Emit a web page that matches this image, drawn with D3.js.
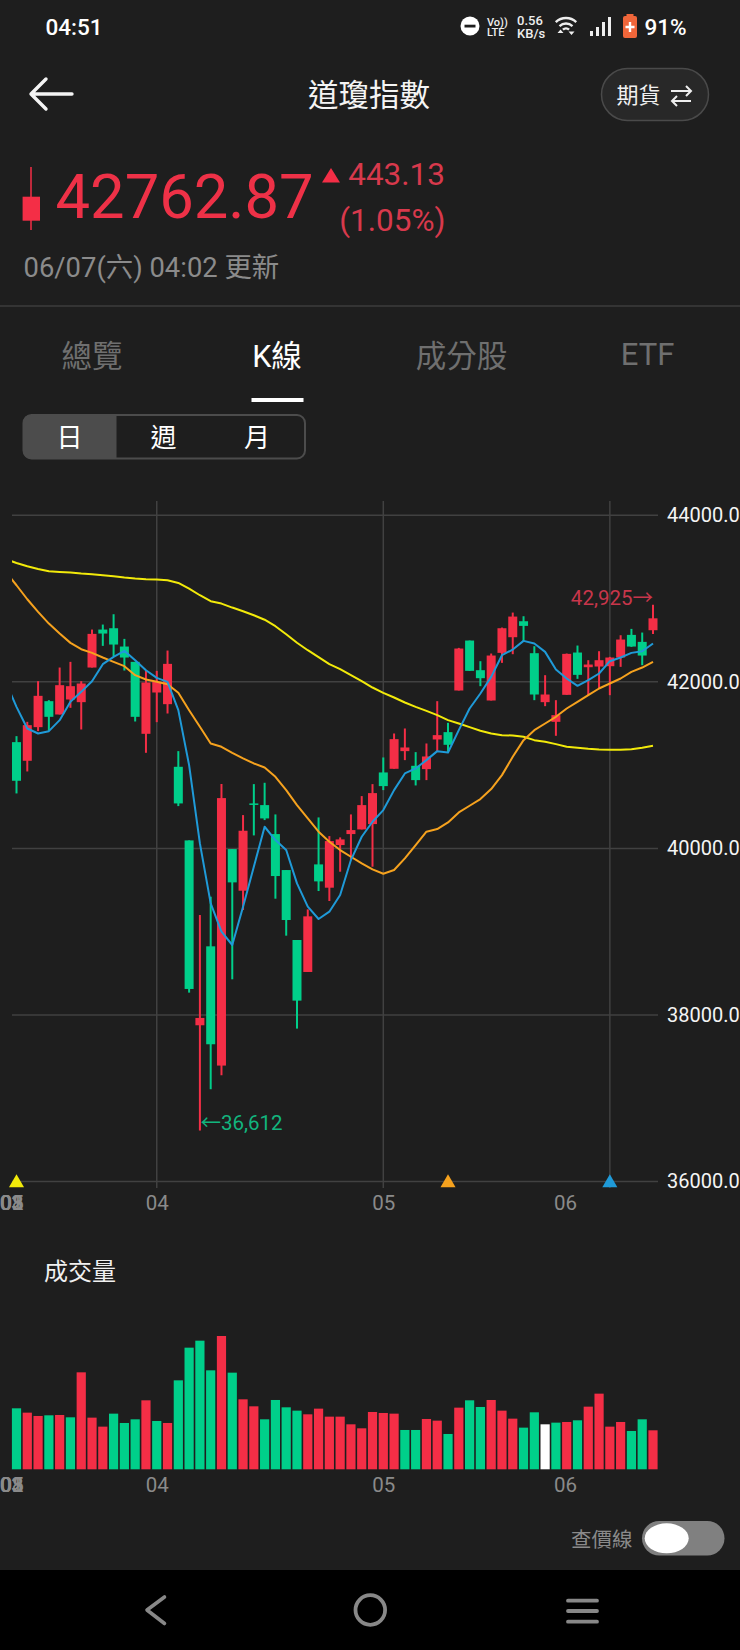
<!DOCTYPE html>
<html lang="zh-Hant">
<head>
    <meta charset="UTF-8">
    <title>道瓊指數 K線</title>
    <style>
        html, body {
            margin: 0;
            padding: 0;
            background: #1e1e1e;
            overflow: hidden;
        }
        svg {
            display: block;
        }
        text {
            font-family: Roboto, "Noto Sans CJK TC", sans-serif;
        }
        .tick line, .domain {
            display: none;
        }
    </style>
    <script src="https://d3js.org/d3.v7.min.js"></script>
</head>
<body>
    <svg id="chart" width="740" height="1650"></svg>
    <script>
        // daily candles, values
        var opens = [41276,41052,41456,41768,41608,41788,41756,42172,42628,42644,42424,42240,41376,41872,41732,40980,
            40096,37876,38824,37392,39992,39492,40540,40520,40172,39740,38900,38516,39808,39528,40040,40172,40228,40292,
            40912,40956,41168,40992,40952,41308,41396,41896,42496,42140,41776,42348,42536,42728,42344,41756,41520,41844,
            42352,42176,42184,42188,42292,42564,42480,42620];
        var highs = [41348,41520,42008,41780,42172,42240,42008,42628,42688,42812,42516,42240,42140,42132,42376,41168,
            40096,39200,39420,40772,39992,40400,40772,40788,40408,39740,38900,39268,40372,40148,40132,40408,40628,40772,
            41092,41380,41440,41156,41260,41768,41508,42408,42496,42248,42340,42652,42832,42788,42428,42080,41780,42340,
            42436,42260,42368,42300,42560,42636,42592,42925];
        var lows = [40660,40924,41408,41412,41608,41688,41428,42172,42432,42308,42136,41524,41148,41516,41620,40508,
            38268,36612,37108,37276,38428,39260,40156,40340,39396,38952,37836,38516,39488,39368,39720,39860,40228,39780,
            40700,40956,41060,40756,40820,41160,41160,41896,42132,41948,41776,42228,42332,42492,41780,41708,41352,41844,
            42036,41840,41920,41840,42180,42420,42200,42576];
        var closes = [40812,41480,41832,41580,41960,41948,41980,42576,42580,42448,42292,41580,41992,42000,42216,40540,
            38312,37964,37648,40604,39592,40212,40524,40360,39668,39140,38172,39184,39604,40088,40108,40220,40520,40664,
            40748,41312,41212,40820,41104,41360,41244,42400,42132,42044,42316,42644,42784,42672,41848,41848,41600,42336,
            42084,42208,42260,42292,42508,42424,42316,42763];

        // moving averages, first value is the day just left of the window
        var ma5 = [42000,41700,41440,41380,41408,41540,41760,41880,42008,42212,42300,42372,42260,42140,42048,42000,41660,
            41000,40060,39340,39000,38840,39300,39780,40260,40100,39980,39580,39300,39152,39240,39440,39860,40140,40320,
            40460,40700,40900,40960,41060,41168,41152,41420,41680,41860,42060,42320,42388,42492,42460,42360,42148,42040,
            41952,42020,42100,42248,42292,42348,42368,42460];
        var ma20 = [43320,43160,42992,42840,42700,42580,42468,42392,42348,42292,42240,42188,42080,42028,42000,41972,41868,
            41660,41460,41260,41220,41148,41080,41020,40972,40860,40700,40520,40360,40200,40080,39980,39900,39820,39748,
            39696,39740,39880,40040,40200,40232,40312,40432,40512,40592,40712,40880,41100,41300,41420,41500,41580,41680,
            41760,41840,41920,41980,42040,42120,42172,42240];
        var ma60 = [43472,43428,43388,43356,43328,43320,43312,43300,43292,43280,43268,43252,43240,43232,43228,43220,43188,
            43120,43040,42968,42940,42892,42848,42800,42746,42668,42572,42470,42380,42296,42212,42152,42080,42008,41932,
            41868,41812,41752,41700,41652,41600,41540,41500,41456,41412,41380,41360,41356,41340,41300,41280,41252,41220,
            41208,41196,41188,41184,41184,41192,41208,41232];

        var volumes = [183,170,160,162,163,156,291,155,128,167,139,150,207,145,139,267,365,386,297,400,290,210,189,150,208,
            186,176,165,182,158,158,135,123,172,169,167,118,118,151,146,106,185,207,187,208,176,152,125,171,135,140,142,
            147,188,227,128,142,115,150,117];
        // r = up, g = down, w = flat
        var volumeDirs = "grrgrgrrrgggrgrggggrgrrggggrrrrrrrrrggrrgrggrrrggwgrgrrrrggr";

        var priceTicks = [36000,38000,40000,42000,44000];
        var gridDays = [13,34,55];
        var monthTicks = [13,34,50.85];
        var monthLabels = ["04","05","06"];
        var squashedDays = [-0.5,-0.47,-0.44,-0.42,-0.4];
        var squashedLabels = ["03","01","08","02","05"];
        var maStarts = [0,40,55];
        var maColors = ["#f2ea0a","#f6a21e","#1f9ad8"];

        var RED = "#f42e46", GREEN = "#00cf8a";

        var svg = d3.select("#chart");

        var x = d3.scaleLinear().domain([0,59]).range([16.5,653]);
        var y = d3.scaleLinear().domain([36000,44000]).range([1181.5,515.3]);
        var yVol = d3.scaleLinear().domain([0,400]).range([1469.3,1336]);

        function label(parent, txt, px, py, size, color, anchor, weight) {
            return parent.append("text")
                .attr("x", px).attr("y", py)
                .attr("font-size", size)
                .attr("fill", color)
                .attr("text-anchor", anchor || "start")
                .attr("dominant-baseline", "central")
                .attr("font-weight", weight || 400)
                .text(txt);
        }

        // ---- app chrome ----
        var chrome = svg.append("g").attr("class", "chrome");

        label(chrome, "04:51", 45.5, 27, 22.5, "#fff", "start", 500);
        chrome.append("circle").attr("cx", 470).attr("cy", 26).attr("r", 9.5).attr("fill", "#fff");
        chrome.append("rect").attr("x", 464.5).attr("y", 24.7).attr("width", 11).attr("height", 2.8).attr("fill", "#1e1e1e");
        var volte = chrome.append("text").attr("font-size", 11).attr("fill", "#eee").attr("font-weight", 500);
        volte.append("tspan").attr("x", 487).attr("y", 26).text("Vo))");
        volte.append("tspan").attr("x", 487).attr("y", 36).text("LTE");
        label(chrome, "0.56", 517, 20, 13, "#eee", "start", 500);
        label(chrome, "KB/s", 517, 33, 13, "#eee", "start", 500);

        var wifiArc = d3.arc().startAngle(-0.75).endAngle(0.75);
        [5,10,15.5].forEach(function(r) {
            chrome.append("path")
                .attr("transform", "translate(566,33)")
                .attr("d", wifiArc({innerRadius: r - 1.7, outerRadius: r + 0.7}))
                .attr("fill", "#eee");
        });
        chrome.append("path").attr("d", "M557.5 33L560.5 29.5L563.5 33ZM568.5 31.5L571.5 35L574.5 31.5Z").attr("fill", "#eee");
        [[590,5],[596,9],[602,14],[608,19]].forEach(function(b) {
            chrome.append("rect").attr("x", b[0]).attr("y", 36 - b[1]).attr("width", 3).attr("height", b[1]).attr("fill", "#eee");
        });
        chrome.append("rect").attr("x", 626.5).attr("y", 14).attr("width", 7).attr("height", 3).attr("fill", "#f0663a");
        chrome.append("rect").attr("x", 623).attr("y", 16).attr("width", 14).attr("height", 22).attr("rx", 2).attr("fill", "#f0663a");
        chrome.append("path").attr("d", "M630 22V32M625.5 27H634.5").attr("stroke", "#fff").attr("stroke-width", 2.4);
        label(chrome, "91%", 644.5, 27, 22.5, "#fff", "start", 500);

        chrome.append("path")
            .attr("d", "M72 94H31M46 79L31 94L46 109")
            .attr("fill", "none").attr("stroke", "#f4f4f4").attr("stroke-width", 3.4)
            .attr("stroke-linecap", "round").attr("stroke-linejoin", "round");
        label(chrome, "道瓊指數", 369, 95, 30.5, "#f4f4f4", "middle");

        chrome.append("rect").attr("x", 601.5).attr("y", 68.5).attr("width", 107).attr("height", 52).attr("rx", 26)
            .attr("fill", "#282828").attr("stroke", "#4a4a4a").attr("stroke-width", 1.5);
        label(chrome, "期貨", 616.5, 95, 22, "#f0f0f0");
        chrome.append("path")
            .attr("d", "M671 91H691M686 86L691 91L686 96M691 101H672M677 96L672 101L677 106")
            .attr("fill", "none").attr("stroke", "#eee").attr("stroke-width", 2);

        // quote block
        chrome.append("line").attr("x1", 31).attr("x2", 31).attr("y1", 167).attr("y2", 230).attr("stroke", RED).attr("stroke-width", 1.5);
        chrome.append("rect").attr("x", 22.6).attr("y", 196.7).attr("width", 17.4).attr("height", 24).attr("fill", RED);
        chrome.append("text").attr("x", 55.5).attr("y", 218).attr("font-size", 61.5).attr("fill", "#ee3147").text("42762.87");
        chrome.append("path").attr("d", "M322 182.5L331 168L340 182.5Z").attr("fill", RED);
        chrome.append("text").attr("x", 445).attr("y", 185).attr("font-size", 31.5).attr("fill", "#d8394c").attr("text-anchor", "end").text("443.13");
        chrome.append("text").attr("x", 445.5).attr("y", 231).attr("font-size", 31.5).attr("fill", "#d8394c").attr("text-anchor", "end").text("(1.05%)");
        label(chrome, "06/07(六) 04:02 更新", 23.5, 267.5, 27.4, "#8b8b8b");
        chrome.append("line").attr("x1", 0).attr("x2", 740).attr("y1", 306).attr("y2", 306).attr("stroke", "#3c3c3c").attr("stroke-width", 1.5);

        // tabs
        label(chrome, "總覽", 92, 356, 30.5, "#6f6f6f", "middle");
        label(chrome, "K線", 277, 356, 30.5, "#fff", "middle");
        label(chrome, "成分股", 461.5, 356, 30.5, "#6f6f6f", "middle");
        label(chrome, "ETF", 647.5, 354, 31, "#6f6f6f", "middle");
        chrome.append("rect").attr("x", 251.5).attr("y", 398).attr("width", 52).attr("height", 4).attr("fill", "#fff");

        chrome.append("rect").attr("x", 23.5).attr("y", 415).attr("width", 281.5).attr("height", 43.5).attr("rx", 8)
            .attr("fill", "#1e1e1e").attr("stroke", "#4c4c4c").attr("stroke-width", 2);
        chrome.append("path").attr("d", "M31 415H116.5V458.5H31Q23.5 458.5 23.5 451V422Q23.5 415 31 415Z").attr("fill", "#4c4c4c");
        label(chrome, "日", 69.5, 438, 26, "#fff", "middle");
        label(chrome, "週", 163.5, 438, 26, "#fff", "middle");
        label(chrome, "月", 257, 438, 26, "#fff", "middle");

        // ---- price chart ----
        var days = d3.range(opens.length);

        svg.append("defs").append("clipPath").attr("id", "plot")
            .append("rect").attr("x", 12).attr("y", 500).attr("width", 646).attr("height", 700);

        var grid = svg.append("g").attr("class", "grid").attr("stroke", "#414141").attr("stroke-width", 1.5);
        grid.selectAll("line.h").data(priceTicks).enter().append("line")
            .attr("class", "h")
            .attr("x1", 12).attr("x2", 658)
            .attr("y1", d => y(d)).attr("y2", d => y(d));
        grid.selectAll("line.v").data(gridDays).enter().append("line")
            .attr("class", "v")
            .attr("x1", d => x(d)).attr("x2", d => x(d))
            .attr("y1", 501).attr("y2", 1188);

        var candles = svg.append("g").attr("class", "candles");
        var candle = candles.selectAll("g").data(days).enter().append("g")
            .attr("fill", d => closes[d] >= opens[d] ? RED : GREEN)
            .attr("stroke", d => closes[d] >= opens[d] ? RED : GREEN);
        candle.append("line")
            .attr("x1", d => x(d)).attr("x2", d => x(d))
            .attr("y1", d => y(highs[d])).attr("y2", d => y(lows[d]))
            .attr("stroke-width", 2);
        candle.append("rect")
            .attr("x", d => x(d) - 4.5)
            .attr("width", 9)
            .attr("y", d => y(Math.max(opens[d], closes[d])))
            .attr("height", d => Math.max(1.5, Math.abs(y(opens[d]) - y(closes[d]))))
            .attr("stroke", "none");

        var maLine = d3.line().x((d, i) => x(i - 1)).y(d => y(d));
        [ma60, ma20, ma5].forEach(function(series, k) {
            svg.append("path")
                .attr("d", maLine(series))
                .attr("clip-path", "url(#plot)")
                .attr("fill", "none")
                .attr("stroke", maColors[k])
                .attr("stroke-width", 2)
                .attr("stroke-linejoin", "round");
        });

        // markers where each average starts
        svg.selectAll("path.start").data(maStarts).enter().append("path")
            .attr("class", "start")
            .attr("d", d3.symbol().type(d3.symbolTriangle).size(98))
            .attr("transform", d => "translate(" + x(d) + ",1183)")
            .attr("fill", (d, i) => maColors[i]);

        label(svg, "42,925→", x(59), 598, 20.5, "#c8364b", "end");
        label(svg, "←36,612", x(17) + 0.5, 1123, 20.5, "#12b57e", "start");

        var yAxis = d3.axisRight(y).tickValues(priceTicks).tickFormat(d3.format(".1f")).tickSize(0).tickPadding(0);
        svg.append("g")
            .attr("transform", "translate(667,0)")
            .call(yAxis)
            .call(g => g.selectAll("text").attr("font-size", 20).attr("fill", "#f4f4f4").attr("font-family", "Roboto"));

        function monthAxis(yPos) {
            var axis = d3.axisBottom(x)
                .tickValues(monthTicks)
                .tickFormat((d, i) => monthLabels[i])
                .tickSize(0).tickPadding(0);
            var g = svg.append("g").attr("transform", "translate(0," + yPos + ")").call(axis);
            g.selectAll("text")
                .attr("y", 0).attr("dy", "0.36em")
                .attr("font-size", 20.5).attr("fill", "#8a8a8a").attr("font-family", "Roboto");
            // months scrolled off the left edge pile up here
            svg.append("g").selectAll("text").data(squashedDays).enter().append("text")
                .attr("x", d => x(d))
                .attr("y", yPos)
                .attr("dy", "0.36em")
                .attr("text-anchor", "middle")
                .attr("font-size", 20.5)
                .attr("fill", "#8a8a8a")
                .text((d, i) => squashedLabels[i]);
        }
        monthAxis(1203);

        // ---- volume ----
        label(svg, "成交量", 44, 1272, 24, "#f0f0f0");

        svg.append("g").selectAll("rect").data(volumes).enter().append("rect")
            .attr("x", (d, i) => x(i) - 4.6)
            .attr("width", 9.2)
            .attr("y", d => yVol(d))
            .attr("height", d => yVol(0) - yVol(d))
            .attr("fill", (d, i) => {
                var dir = volumeDirs[i];
                return dir === "r" ? RED : dir === "g" ? GREEN : "#fff";
            });

        monthAxis(1485);

        // ---- bottom ----
        label(svg, "查價線", 571, 1540, 20.5, "#8a8a8a");
        svg.append("rect").attr("x", 642).attr("y", 1521).attr("width", 82.5).attr("height", 34.5).attr("rx", 17.25).attr("fill", "#808080");
        svg.append("ellipse").attr("cx", 666.7).attr("cy", 1538.3).attr("rx", 22).attr("ry", 15).attr("fill", "#fff");

        svg.append("rect").attr("x", 0).attr("y", 1570).attr("width", 740).attr("height", 80).attr("fill", "#000");
        svg.append("path")
            .attr("d", "M164.5 1597L147 1610L164.5 1623.5")
            .attr("fill", "none").attr("stroke", "#888").attr("stroke-width", 3.6)
            .attr("stroke-linecap", "round").attr("stroke-linejoin", "round");
        svg.append("circle").attr("cx", 370.3).attr("cy", 1610).attr("r", 14.8)
            .attr("fill", "none").attr("stroke", "#888").attr("stroke-width", 3.8);
        svg.append("path")
            .attr("d", "M568 1600.7H597M568 1611H597M568 1621.7H597")
            .attr("stroke", "#888").attr("stroke-width", 3.8).attr("stroke-linecap", "round");
    </script>
</body>
</html>
